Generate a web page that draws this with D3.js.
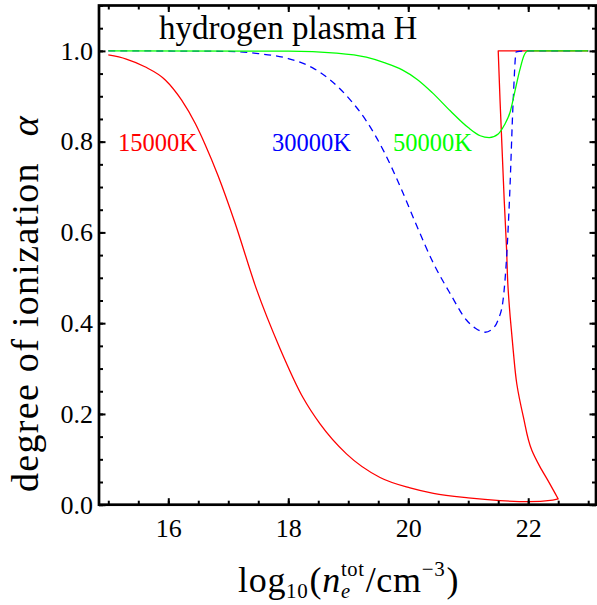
<!DOCTYPE html>
<html>
<head>
<meta charset="utf-8">
<script src="https://cdn.jsdelivr.net/npm/d3@7"></script>
<style>
  html, body { margin: 0; padding: 0; background: #fff; }
  svg { display: block; }
  text { font-family: "Liberation Serif", "Times New Roman", serif; }
</style>
</head>
<body>
<svg id="chart" width="597" height="605"></svg>
<script>
// ---------- data ----------
const seriesNames = ["15000K", "30000K", "50000K"];

// 15000 K (red, parametric path: goes down to a tip, turns back up, then runs flat at 1)
const redX = [15.0, 15.3, 15.61, 15.95, 16.22, 16.45, 16.61, 16.83, 17.11, 17.47, 17.86, 18.25, 18.53, 18.97, 19.53, 20.03, 20.42, 21.0, 21.53, 22.0, 22.41, 22.5,
              22.33, 22.19, 22.06, 21.92, 21.81, 21.75, 21.70, 21.66, 21.64, 21.6, 21.53, 21.5,
              22.0, 23.0];
const redY = [0.991, 0.982, 0.965, 0.936, 0.892, 0.840, 0.795, 0.725, 0.622, 0.475, 0.345, 0.235, 0.178, 0.112, 0.060, 0.037, 0.025, 0.015, 0.009, 0.0066, 0.010, 0.0126,
              0.053, 0.085, 0.120, 0.193, 0.266, 0.340, 0.413, 0.487, 0.561, 0.671, 0.892, 1.0,
              1.0, 1.0];

// 30000 K (blue, dashed)
const blueX = [15.0, 17.0, 17.5, 18.0, 18.4, 18.7, 19.0, 19.3, 19.6, 19.86, 20.14, 20.42, 20.70, 20.97, 21.12, 21.28, 21.40, 21.50, 21.58, 21.64, 21.69, 21.75, 21.80, 22.0, 23.0];
const blueY = [1.0, 0.999, 0.994, 0.983, 0.963, 0.936, 0.897, 0.846, 0.777, 0.703, 0.615, 0.532, 0.465, 0.407, 0.389, 0.380, 0.387, 0.408, 0.450, 0.546, 0.680, 0.892, 0.998, 1.0, 1.0];

// 50000 K (green)
const greenX = [15.0, 18.0, 18.8, 19.3, 19.6, 19.9, 20.15, 20.4, 20.7, 21.0, 21.2, 21.35, 21.5, 21.6, 21.7, 21.78, 21.86, 21.93, 22.0, 23.0];
const greenY = [1.0, 0.9995, 0.995, 0.986, 0.974, 0.958, 0.937, 0.908, 0.868, 0.831, 0.813, 0.809, 0.817, 0.836, 0.866, 0.912, 0.958, 0.990, 1.0, 1.0];

// axes
const xMajorTicks = [16, 18, 20, 22];
const xMinorTicks = d3.range(15, 23.01, 0.5);
const yMajorTicks = [0.0, 0.2, 0.4, 0.6, 0.8, 1.0];
const yMinorTicks = d3.range(0, 1.101, 0.05);
const xDomain = [14.845, 23.13];
const yDomain = [0, 1.1];

// ---------- layout ----------
const svg = d3.select("#chart");
const L = 99, R = 596, T = 5.5, B = 504.7;
const x = d3.scaleLinear().domain(xDomain).range([L, R]);
const y = d3.scaleLinear().domain(yDomain).range([B, T]);

svg.append("defs").append("clipPath").attr("id", "clip")
  .append("rect").attr("x", L).attr("y", T).attr("width", R - L).attr("height", B - T);

const lineX = d3.line().x(d => x(d[0])).y(d => y(d[1])).curve(d3.curveMonotoneX);
const lineY = d3.line().x(d => x(d[0])).y(d => y(d[1])).curve(d3.curveMonotoneY);
const lineL = d3.line().x(d => x(d[0])).y(d => y(d[1]));

function zip(xs, ys) { return xs.map((v, i) => [v, ys[i]]); }

// red path: split where the direction changes
function redPath(pts) {
  let tip = 0;
  while (tip < pts.length - 1 && pts[tip + 1][0] >= pts[tip][0]) tip++;   // first turn-back
  let top = tip;
  while (top < pts.length - 1 && pts[top][1] < 1) top++;                  // reaches 1 again
  const a = lineX(pts.slice(0, tip + 1));
  const b = lineY(pts.slice(tip, top + 1)).replace(/^M/, "L");
  const c = lineL(pts.slice(top)).replace(/^M/, "L");
  return a + b + c;
}

const series = [
  { name: seriesNames[0], pts: zip(redX, redY),     color: "#ff0000", dash: null, path: redPath },
  { name: seriesNames[1], pts: zip(blueX, blueY),   color: "#0000ff", dash: "7,5", path: lineX },
  { name: seriesNames[2], pts: zip(greenX, greenY), color: "#00ff00", dash: null, path: lineX }
];

const plot = svg.append("g").attr("clip-path", "url(#clip)");
series.forEach(s => {
  plot.append("path")
    .attr("d", s.path(s.pts))
    .attr("fill", "none")
    .attr("stroke", s.color)
    .attr("stroke-width", 1.3)
    .attr("stroke-linejoin", "round")
    .attr("stroke-dasharray", s.dash);
});

// ---------- axes (frame with inward ticks) ----------
const MAJ = 6.5, MIN = 4;
function styleAxis(g) {
  g.select(".domain").remove();
  g.selectAll(".tick line").attr("stroke", "#000").attr("stroke-width", 2);
  g.selectAll("text").attr("fill", "#000").style("font-family", '"Liberation Serif", serif').style("font-size", "26px");
}
// bottom
svg.append("g").attr("transform", `translate(0,${B})`)
  .call(d3.axisBottom(x).tickValues(xMinorTicks).tickSizeInner(-MIN).tickSizeOuter(0).tickFormat(""))
  .call(styleAxis);
svg.append("g").attr("transform", `translate(0,${B})`)
  .call(d3.axisBottom(x).tickValues(xMajorTicks).tickSizeInner(-MAJ).tickSizeOuter(0).tickPadding(14).tickFormat(d3.format("d")))
  .call(styleAxis);
// top
svg.append("g").attr("transform", `translate(0,${T})`)
  .call(d3.axisTop(x).tickValues(xMinorTicks).tickSizeInner(-MIN).tickSizeOuter(0).tickFormat(""))
  .call(styleAxis);
svg.append("g").attr("transform", `translate(0,${T})`)
  .call(d3.axisTop(x).tickValues(xMajorTicks).tickSizeInner(-MAJ).tickSizeOuter(0).tickFormat(""))
  .call(styleAxis);
// left
svg.append("g").attr("transform", `translate(${L},0)`)
  .call(d3.axisLeft(y).tickValues(yMinorTicks).tickSizeInner(-MIN).tickSizeOuter(0).tickFormat(""))
  .call(styleAxis);
svg.append("g").attr("transform", `translate(${L},0)`)
  .call(d3.axisLeft(y).tickValues(yMajorTicks).tickSizeInner(-MAJ).tickSizeOuter(0).tickPadding(6).tickFormat(d3.format(".1f")))
  .call(styleAxis);
// right
svg.append("g").attr("transform", `translate(${R},0)`)
  .call(d3.axisRight(y).tickValues(yMinorTicks).tickSizeInner(-MIN).tickSizeOuter(0).tickFormat(""))
  .call(styleAxis);
svg.append("g").attr("transform", `translate(${R},0)`)
  .call(d3.axisRight(y).tickValues(yMajorTicks).tickSizeInner(-MAJ).tickSizeOuter(0).tickFormat(""))
  .call(styleAxis);

// frame
svg.append("rect")
  .attr("x", L).attr("y", T).attr("width", R - L).attr("height", B - T)
  .attr("fill", "none").attr("stroke", "#000").attr("stroke-width", 2.7);

// ---------- texts ----------
svg.append("text")
  .attr("x", 159).attr("y", 39)
  .style("font-size", "33px").attr("fill", "#000")
  .text("hydrogen plasma H");

const labelPos = [[118, 151], [272, 151], [393, 151]];
series.forEach((s, i) => {
  svg.append("text")
    .attr("x", labelPos[i][0]).attr("y", labelPos[i][1])
    .style("font-size", "24.5px")
    .attr("fill", s.color)
    .text(s.name);
});

// x-axis title: log10(n_e^tot / cm^-3)
const xt = svg.append("text")
  .attr("x", 238).attr("y", 592)
  .style("font-size", "36px").style("letter-spacing", "0.7px").attr("fill", "#000");
xt.append("tspan").text("log");
xt.append("tspan").attr("dy", 6).style("font-size", "21px").text("10");
xt.append("tspan").attr("dy", -6).attr("dx", 1).text("(");
xt.append("tspan").style("font-style", "italic").text("n");
const eSpan = xt.append("tspan").attr("dy", 6).style("font-size", "20.5px").style("font-style", "italic").text("e");
const eW = eSpan.node().getComputedTextLength();
xt.append("tspan").attr("dx", -eW).attr("dy", -22.5).style("font-size", "20.5px").text("tot");
xt.append("tspan").attr("dy", 16.5).attr("dx", 1).text("/cm");
xt.append("tspan").attr("dy", -16).style("font-size", "21px").text("\u22123");
xt.append("tspan").attr("dy", 16).attr("dx", 1).text(")");

// y-axis title
const yt = svg.append("text")
  .attr("transform", "translate(38,492) rotate(-90)")
  .style("font-size", "38px").style("letter-spacing", "1.3px").attr("fill", "#000");
yt.append("tspan").text("degree of ionization");
yt.append("tspan").attr("dx", 26).style("font-style", "italic").text("\u03b1");
</script>
</body>
</html>
